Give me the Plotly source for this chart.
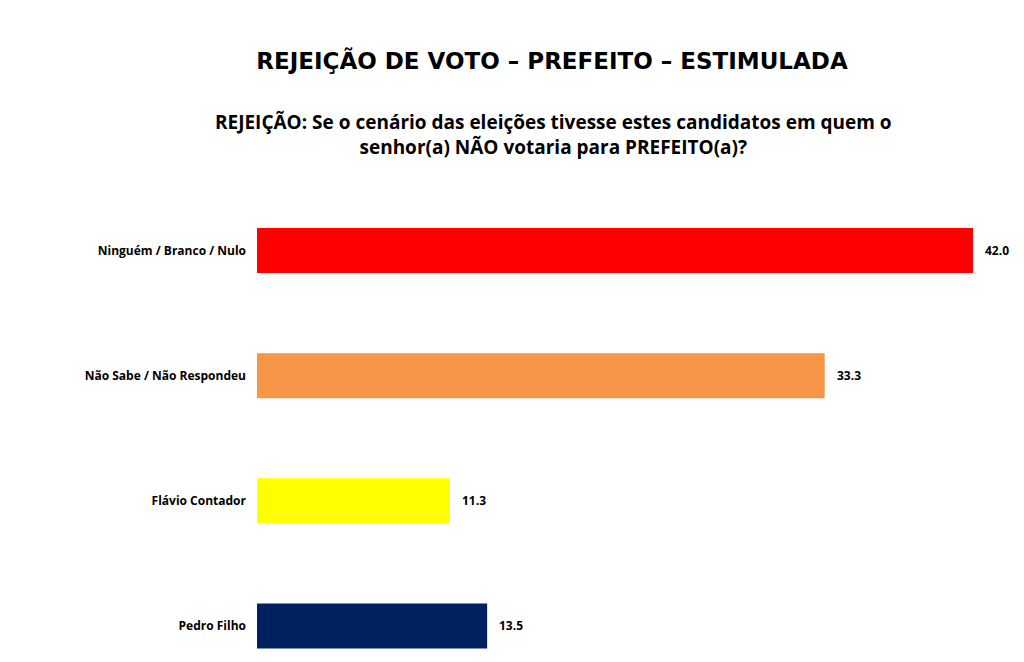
import plotly.graph_objects as go

# dados
categorias = ["Ninguém / Branco / Nulo", "Não Sabe / Não Respondeu", "Flávio Contador", "Pedro Filho"]
valores = [42.0, 33.3, 11.3, 13.5]
cores = ["#FF0000", "#F79646", "#FFFF00", "#002060"]

titulo = "REJEIÇÃO DE VOTO – PREFEITO – ESTIMULADA"
subtitulo = "REJEIÇÃO: Se o cenário das eleições tivesse estes candidatos em quem o<br>senhor(a) NÃO votaria para PREFEITO(a)?"

# a página tem 8px de margem no body, por isso tudo vai 8px para trás
OFF = 8
W, H = 1024 - 2 * OFF, 662 - OFF
MT, MB, ML, MR = 188 - OFF, 0, 257 - OFF, 0
ph = H - MT - MB
rotulos = "Open Sans, Lato, sans-serif"

fig = go.Figure()
fig.add_trace(
    go.Bar(
        x=valores,
        y=categorias,
        orientation="h",
        marker=dict(color=cores, line=dict(width=0)),
        width=0.36,
        hoverinfo="x+y",
    )
)

for cat, val in zip(categorias, valores):
    fig.add_annotation(
        x=val, y=cat, text=f"<b>{val:.1f}</b>", showarrow=False,
        xanchor="left", xshift=10,
        font=dict(family=rotulos, size=12, color="#000000"),
    )

fig.add_annotation(
    x=0.5, xref="paper", xanchor="center",
    y=(H - (134 - OFF)) / ph, yref="paper", yanchor="middle",
    xshift=((553 - OFF) - (ML + (W - ML - MR) / 2)),
    text=f"<b>{subtitulo}</b>", showarrow=False,
    font=dict(family=rotulos, size=19, color="#000000"),
)

fig.update_layout(
    width=W, height=H,
    margin=dict(l=ML, r=MR, t=MT, b=MB),
    paper_bgcolor="white", plot_bgcolor="white",
    showlegend=False,
    title=dict(
        text=f"<b>{titulo}</b>", x=(552 - OFF) / W, xanchor="center",
        y=1 - (61 - OFF) / H, yanchor="middle",
        font=dict(family="DejaVu Sans, Arial, sans-serif", size=23, color="#000000"),
    ),
    xaxis=dict(range=[0, (W - ML - MR) / (716 / 42)], visible=False, fixedrange=True),
    yaxis=dict(
        categoryorder="array", categoryarray=categorias,
        range=[(662 - 250) / 125.3, -0.5],
        showgrid=False, zeroline=False, showline=False, ticks="",
        ticklabelstandoff=10,
        tickfont=dict(family=rotulos, size=12, color="#000000"),
        tickprefix="<b>", ticksuffix="</b>",
    ),
)

fig.write_html("out.html")
